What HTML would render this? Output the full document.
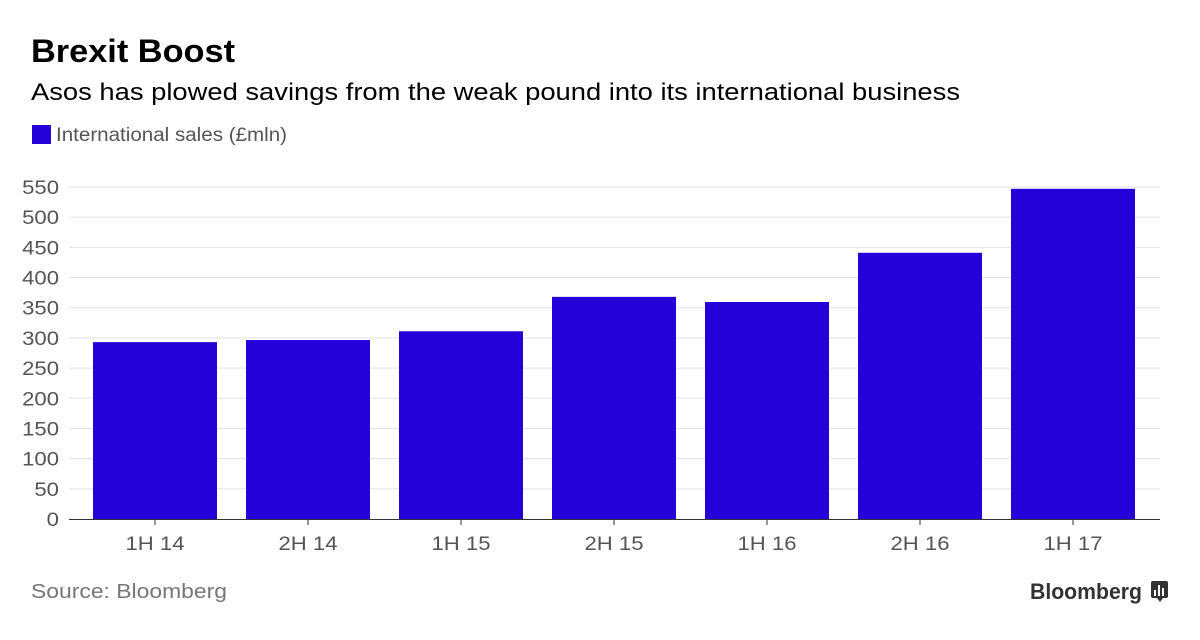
<!DOCTYPE html>
<html><head><meta charset="utf-8"><style>
body{margin:0;width:1200px;height:635px;background:#fff;font-family:"Liberation Sans",sans-serif;overflow:hidden}
</style></head><body>
<svg width="1200" height="635" xmlns="http://www.w3.org/2000/svg">
<text x="31" y="62" font-size="32" font-weight="bold" fill="#000" textLength="204" lengthAdjust="spacingAndGlyphs">Brexit Boost</text>
<text x="31" y="100" font-size="24" fill="#000" textLength="929" lengthAdjust="spacingAndGlyphs">Asos has plowed savings from the weak pound into its international business</text>
<rect x="32" y="125" width="19" height="19" fill="#2400d9"/>
<text x="56" y="141" font-size="19" fill="#555" textLength="231" lengthAdjust="spacingAndGlyphs">International sales (£mln)</text>
<g id="grid"></g><g id="bars"></g><g id="xl"></g>
<line x1="69" x2="1160" y1="519.5" y2="519.5" stroke="#333" stroke-width="1"/>
<text x="31" y="598" font-size="20" fill="#777" textLength="196" lengthAdjust="spacingAndGlyphs">Source: Bloomberg</text>
<text x="1030" y="599" font-size="22" font-weight="bold" fill="#333" textLength="112" lengthAdjust="spacingAndGlyphs">Bloomberg</text>
<g><rect x="1151" y="581" width="17" height="17" rx="2" fill="#333"/><path d="M1157 598 L1160 602 L1163 598Z" fill="#333"/><rect x="1154" y="590" width="2" height="6" fill="#fff"/><rect x="1158" y="585" width="2" height="11" fill="#fff"/><rect x="1162" y="588" width="2" height="8" fill="#fff"/></g>
</svg>
<script>
const categories=["1H 14","2H 14","1H 15","2H 15","1H 16","2H 16","1H 17"];
const values=[293,296.5,311,368,359.5,441,547];
const ticks=[0,50,100,150,200,250,300,350,400,450,500,550];
const NS="http://www.w3.org/2000/svg";
const y=v=>519-v*(332/550);
const xc=i=>155+i*153;
const bw=124;
function mk(t,a,p){const e=document.createElementNS(NS,t);for(const k in a)e.setAttribute(k,a[k]);p.appendChild(e);return e;}
const g=document.getElementById('grid'),b=document.getElementById('bars'),xl=document.getElementById('xl');
ticks.forEach(t=>{
 if(t>0){const l=mk('line',{x1:69,x2:1160,y1:y(t),y2:y(t),stroke:'#e3e3e3','stroke-width':1},g);
 
 }
 const s=String(t);
 const tx=mk('text',{x:59,y:y(t)+7,'font-size':19,fill:'#555','text-anchor':'end',textLength:s.length*12.3,lengthAdjust:'spacingAndGlyphs'},g);tx.textContent=s;
 
 
});
values.forEach((v,i)=>{
 const r=mk('rect',{x:xc(i)-bw/2,y:y(v),width:bw,height:519-y(v),fill:'#2400d9'},b);
 
 
 const tk=mk('line',{x1:xc(i),x2:xc(i),y1:519,y2:525,stroke:'#333'},xl);
 
 
 const t=mk('text',{x:xc(i),y:550,'font-size':19,fill:'#555','text-anchor':'middle',textLength:59,lengthAdjust:'spacingAndGlyphs'},xl);t.textContent=categories[i];
 
 
});
</script>
</body></html>
